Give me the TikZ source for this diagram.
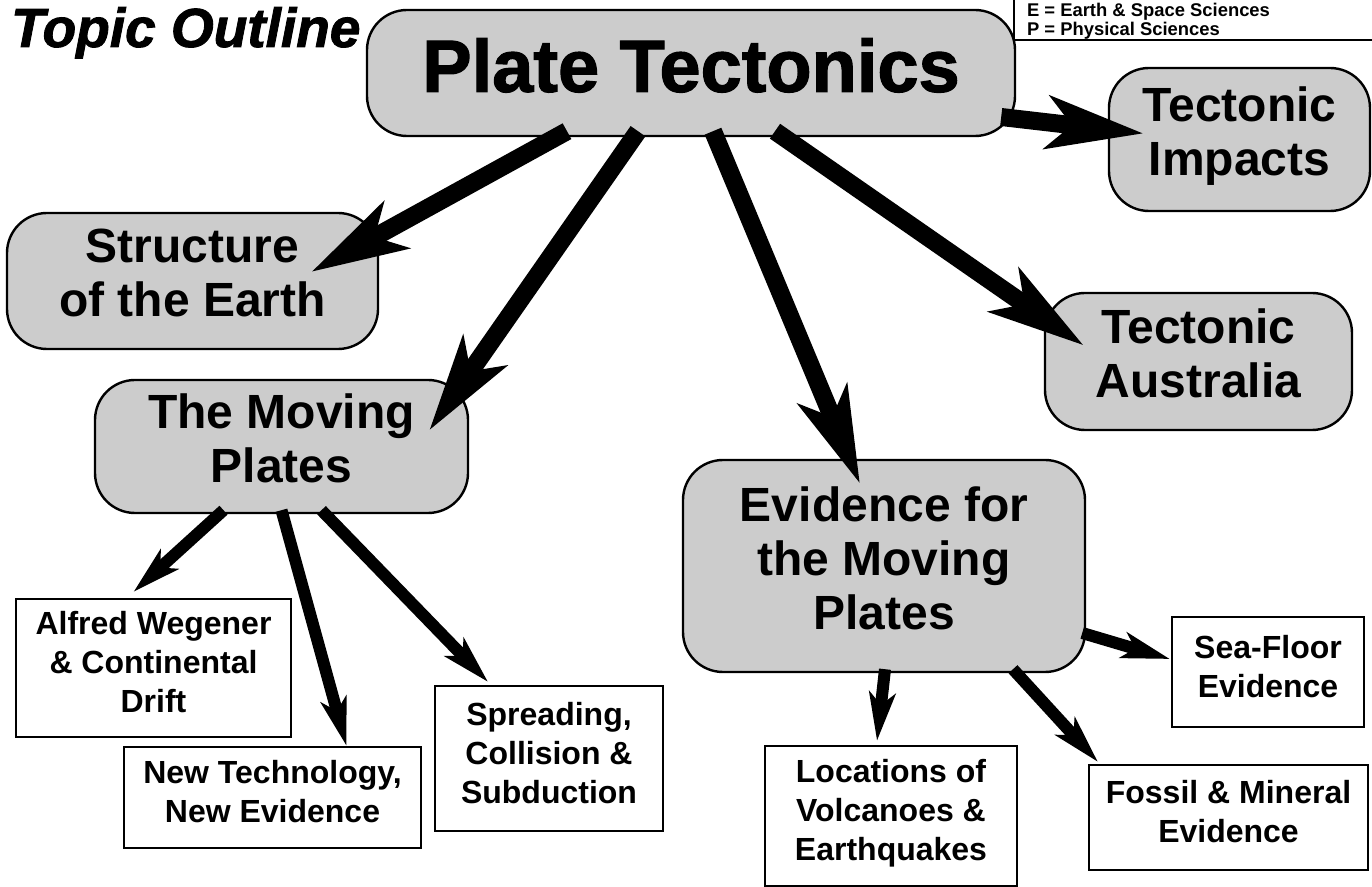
\documentclass[tikz,border=0pt]{standalone}
\usepackage{fontspec}
\setmainfont{Liberation Sans}
\newfontfamily\blackfont[FakeBold=1.6]{Liberation Sans Bold}
\newfontfamily\blackitfont[FakeBold=1.6]{Liberation Sans Bold Italic}
\usetikzlibrary{arrows.meta,calc}

\begin{document}
\begin{tikzpicture}[
  x=0.5pt, y=-0.5pt,
  topic/.style={draw, line width=1.2pt, fill=black!20, rounded corners=20pt, align=center, inner sep=0pt,
    font=\fontsize{24}{27}\selectfont\bfseries, execute at end node={\rule[-8pt]{0pt}{8pt}}},
  sub/.style={draw, line width=1.1pt, fill=white, align=center, inner sep=0pt,
    font=\fontsize{16}{19.5}\selectfont\bfseries, execute at end node={\rule[-6pt]{0pt}{6pt}}},
  bigarr/.style={line width=9pt, -{Stealth[length=48pt, width=26pt, inset=12pt]}},
  smallarr/.style={line width=6pt, -{Stealth[length=24pt, width=13pt, inset=6pt]}}
]
\useasboundingbox (0,0) rectangle (1372,887);

% title and legend
\node[anchor=base west, font=\fontsize{27.5}{30}\selectfont\blackitfont] (title) at (4,47) {Topic Outline};
\node[anchor=base west, font=\fontsize{9.2}{10}\selectfont\bfseries] (legE) at (1020,17) {E = Earth \& Space Sciences};
\node[anchor=base west, font=\fontsize{9.2}{10}\selectfont\bfseries] (legP) at (1020,36) {P = Physical Sciences};

% main topics
\node[topic, minimum width=324pt, minimum height=63pt, font=\fontsize{37}{40}\selectfont\blackfont,
  execute at end node={}] (main) at (691,73) {Plate Tectonics};
\draw[line width=1.2pt] (1014,0) -- (1014,40) -- (1372,40);
\node[topic, minimum width=130.5pt, minimum height=71.5pt] (impacts) at (1239.5,139.5) {Tectonic\\Impacts};
\node[topic, minimum width=185.5pt, minimum height=68pt] (struct) at (192.5,281) {Structure\\of the Earth};
\node[topic, minimum width=153.5pt, minimum height=68.5pt] (australia) at (1198.5,361.5) {Tectonic\\Australia};
\node[topic, minimum width=186.5pt, minimum height=66.5pt] (moving) at (281.5,446.5) {The Moving\\Plates};
\node[topic, minimum width=201pt, minimum height=106pt] (evidence) at (884,566) {Evidence for\\the Moving\\Plates};

% sub topics
\node[sub, minimum width=137.5pt, minimum height=69pt] (alfred) at (153.5,668) {Alfred Wegener\\\& Continental\\Drift};
\node[sub, minimum width=148.5pt, minimum height=50.5pt] (newtech) at (272.5,797.5) {New Technology,\\New Evidence};
\node[sub, minimum width=114pt, minimum height=72.5pt] (spreading) at (549,758.5) {Spreading,\\Collision \&\\Subduction};
\node[sub, minimum width=126pt, minimum height=70pt] (locations) at (891,816) {Locations of\\Volcanoes \&\\Earthquakes};
\node[sub, minimum width=139.5pt, minimum height=52.5pt] (fossil) at (1228.5,817.5) {Fossil \& Mineral\\Evidence};
\node[sub, minimum width=96pt, minimum height=55pt] (seafloor) at (1268,672) {Sea-Floor\\Evidence};

% arrows
\draw[bigarr] ($(main.east)+(-15,44)$) -- ($(impacts.west)+(36,-6)$);
\draw[bigarr] ($(main.south)+(-124,-6)$) -- ($(struct.east)+(-68,-9)$);
\draw[bigarr] ($(main.south)+(-53,-6)$) -- ($(moving.east)+(-40,-16)$);
\draw[bigarr] ($(main.south)+(22,-6)$) -- ($(evidence.north)+(-24,25)$);
\draw[bigarr] ($(main.south)+(84,-6)$) -- ($(australia.west)+(40,-16)$);

\draw[smallarr] ($(moving.south)+(-58,-4)$) -- ($(alfred.north)+(-20,-6)$);
\draw[smallarr] ($(moving.south)+(0,-4)$) -- ($(newtech.north)+(74,0)$);
\draw[smallarr] ($(moving.south)+(40,-4)$) -- ($(spreading.north)+(-61,-3)$);
\draw[smallarr] ($(evidence.south)+(1,-4)$) -- ($(locations.north)+(-14,-4)$);
\draw[smallarr] ($(evidence.south)+(129,-4)$) -- ($(fossil.north west)+(10,-2)$);
\draw[smallarr] ($(evidence.east)+(-4,67)$) -- ($(seafloor.west)+(-1,-13)$);
\end{tikzpicture}
\end{document}
